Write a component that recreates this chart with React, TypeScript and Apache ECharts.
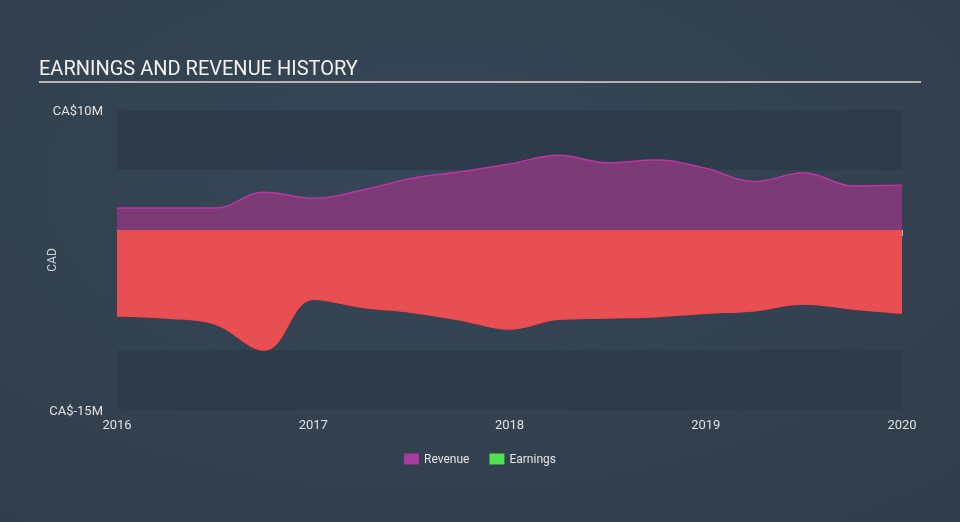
import React, { useEffect, useRef } from "react";
import * as echarts from "echarts";

const dates = [
  "2016-01-01", "2016-04-01", "2016-07-01", "2016-10-01",
  "2017-01-01", "2017-04-01", "2017-07-01", "2017-10-01",
  "2018-01-01", "2018-04-01", "2018-07-01", "2018-10-01",
  "2019-01-01", "2019-04-01", "2019-07-01", "2019-10-01",
  "2020-01-01",
];
const revenue = [1.83, 1.83, 1.83, 3.14, 2.64, 3.33, 4.3, 4.86, 5.5, 6.22, 5.6, 5.83, 5.14, 4.03, 4.78, 3.67, 3.72];
const earnings = [-7.17, -7.33, -7.83, -10.0, -5.78, -6.44, -6.86, -7.5, -8.25, -7.44, -7.33, -7.22, -6.94, -6.72, -6.17, -6.58, -6.94];
const yearTicks = [2016, 2017, 2018, 2019, 2020];
const yLabels: Record<string, string> = { "10": "CA$10M", "-15": "CA$-15M" };

function toYear(d: string): number {
  const [y, m] = d.split("-").map(Number);
  return y + (m - 1) / 12;
}

export default function App() {
  const ref = useRef<HTMLDivElement>(null);
  useEffect(() => {
    if (!ref.current) return;
    const chart = echarts.init(ref.current, null, { renderer: "svg" });
    const font = "Roboto, 'Noto Sans', sans-serif";
    chart.setOption({
      animation: false,
      backgroundColor: {
        type: "radial",
        x: 0.45,
        y: 0.35,
        r: 0.9,
        colorStops: [
          { offset: 0, color: "#364757" },
          { offset: 1, color: "#303c4a" },
        ],
      },
      textStyle: { fontFamily: font },
      graphic: [
        {
          type: "text",
          left: 39,
          top: 58,
          style: {
            text: "EARNINGS AND REVENUE HISTORY",
            fill: "#f2f2f2",
            font: `20px ${font}`,
          },
        },
        {
          type: "line",
          shape: { x1: 39, y1: 82, x2: 921, y2: 82 },
          style: { stroke: "#b0b4b8", lineWidth: 2 },
        },
      ],
      legend: {
        bottom: 52,
        left: "center",
        itemWidth: 15,
        itemHeight: 11,
        itemGap: 20,
        icon: "rect",
        textStyle: { color: "#e4e4e4", fontSize: 12, fontFamily: font },
        data: [
          { name: "Revenue", itemStyle: { color: "#a83aa0", borderWidth: 0 } },
          { name: "Earnings", itemStyle: { color: "#4fe34f", borderWidth: 0 } },
        ],
      },
      grid: { left: 117, right: 58, top: 110, bottom: 112, containLabel: false },
      xAxis: {
        type: "value",
        min: yearTicks[0],
        max: yearTicks[yearTicks.length - 1],
        interval: 1,
        axisLine: { show: true, lineStyle: { color: "#a9b3be", width: 1 } },
        axisTick: { show: true, length: 6, lineStyle: { color: "#a9b3be" } },
        axisLabel: {
          color: "#e0e0e0",
          fontSize: 13,
          margin: 8,
          formatter: (v: number) => String(v),
        },
        splitLine: { show: false },
      },
      yAxis: {
        type: "value",
        min: -15,
        max: 10,
        interval: 5,
        name: "CAD",
        nameLocation: "middle",
        nameGap: 59,
        nameMoveOverlap: false,
        nameTextStyle: { color: "#cfd3d8", fontSize: 12 },
        axisLine: { show: false },
        axisTick: { show: false },
        axisLabel: {
          color: "#e0e0e0",
          fontSize: 13,
          margin: 14,
          formatter: (v: number) => yLabels[String(v)] || "",
        },
        splitLine: { show: false },
        splitArea: {
          show: true,
          areaStyle: { color: ["#2e3b4a", "rgba(0,0,0,0)"] },
        },
      },
      series: [
        {
          name: "Revenue",
          type: "line",
          smooth: 0.4,
          symbol: "none",
          data: dates.map((d, i) => [toYear(d), revenue[i]]),
          lineStyle: { color: "#b9389f", width: 1.5 },
          itemStyle: { color: "#a83aa0" },
          areaStyle: { color: "#7c3a77", opacity: 1 },
          z: 2,
        },
        {
          name: "Earnings",
          type: "line",
          smooth: 0.4,
          symbol: "none",
          data: dates.map((d, i) => [toYear(d), earnings[i]]),
          lineStyle: { color: "#f4484c", width: 1.5 },
          itemStyle: { color: "#4fe34f" },
          areaStyle: { color: "#e84f52", opacity: 1 },
          z: 3,
        },
      ],
    });
    return () => chart.dispose();
  }, []);
  return <div ref={ref} style={{ width: 960, height: 522, position: "fixed", left: 0, top: 0 }} />;
}
